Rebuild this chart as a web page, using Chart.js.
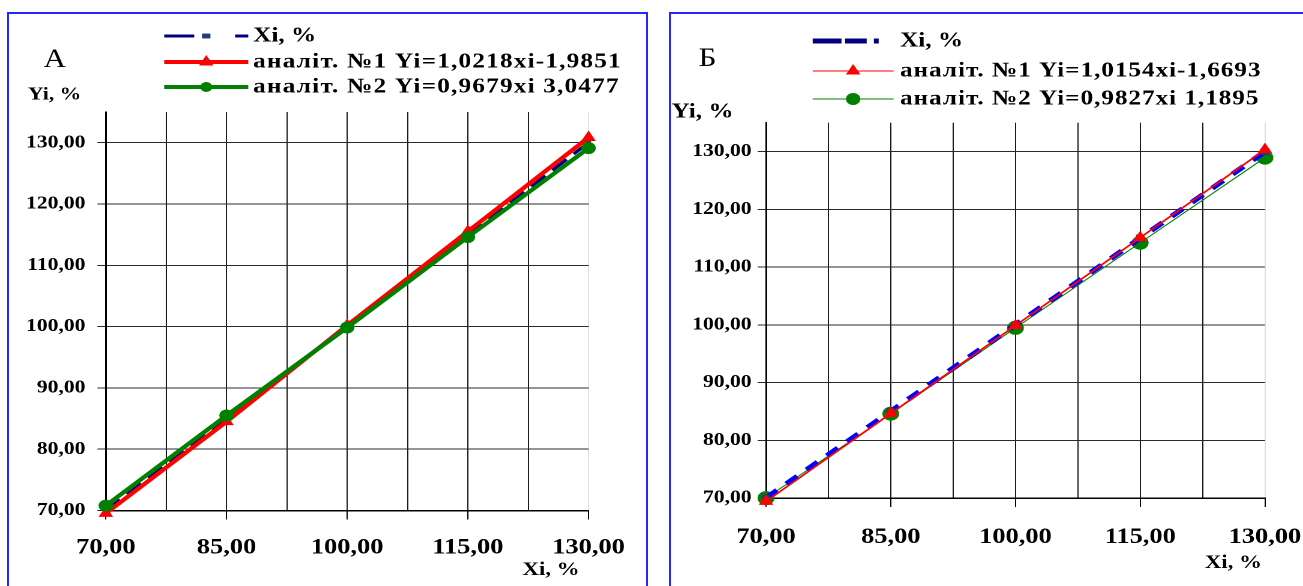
<!DOCTYPE html>
<html>
<head>
<meta charset="utf-8">
<script src="https://cdn.jsdelivr.net/npm/chart.js@4"></script>
<style>
  body { margin: 0; background: #fff; width: 1303px; height: 586px; overflow: hidden; position: relative; }
  .frame { position: absolute; border: 2px solid #2626ff; box-sizing: border-box; }
  .panel { position: absolute; top: 0; height: 586px; transform-origin: 0 0; transform: scaleX(1.2); }
</style>
</head>
<body>
<div class="frame" style="left:7px;top:12px;width:641px;height:600px"></div>
<div class="frame" style="left:669px;top:12px;width:640px;height:600px"></div>
<div class="panel" style="left:0;width:541.67px"><canvas id="chartA"></canvas></div>
<div class="panel" style="left:655px;width:540px"><canvas id="chartB"></canvas></div>

<script>
// values
const xValues = [70, 85, 100, 115, 130];

const xiA = [70, 85, 100, 115, 130];
const analit1A = [69.54, 84.5, 100.2, 115.52, 130.85];
const analit2A = [70.8, 85.5, 99.84, 114.6, 129.1];
const legendA = ['Xi, %', 'аналіт. №1 Yi=1,0218xi-1,9851', 'аналіт. №2 Yi=0,9679xi 3,0477'];

const xiB = [70, 85, 100, 115, 130];
const analit1B = [69.41, 84.64, 99.87, 115.1, 130.33];
const analit2B = [69.98, 84.6, 99.46, 114.2, 128.94];
const legendB = ['Xi, %', 'аналіт. №1 Yi=1,0154xi-1,6693', 'аналіт. №2 Yi=0,9827xi 1,1895'];

const yMin = 70, yMax = 135, yStep = 10, yLastLabel = 130;
const xMin = 70, xMax = 130, xStep = 7.5, xLabelStep = 15;

const FONT = "'Liberation Serif', 'Times New Roman', serif";

function fmt(v) {
  return v.toFixed(2).replace('.', ',');
}

function pairs(ys) {
  return xValues.map((x, i) => ({ x: x, y: ys[i] }));
}

function drawMarker(ctx, style, x, y, r, color) {
  ctx.fillStyle = color;
  ctx.beginPath();
  if (style === 'triangle') {
    ctx.moveTo(x, y - r);
    ctx.lineTo(x + r * 0.866, y + r * 0.5);
    ctx.lineTo(x - r * 0.866, y + r * 0.5);
    ctx.closePath();
  } else if (style === 'circle') {
    ctx.arc(x, y, r, 0, Math.PI * 2);
  } else {
    ctx.rect(x - r, y - r * 0.7, r * 2, r * 1.4);
  }
  ctx.fill();
}

const textPlugin = {
  id: 'panelText',
  afterDraw(chart, args, o) {
    const ctx = chart.ctx;
    ctx.save();
    ctx.fillStyle = '#000';
    ctx.textBaseline = 'alphabetic';
    ctx.font = `26px ${FONT}`;
    ctx.fillText(o.letter, o.letterX, o.letterY);

    ctx.textBaseline = 'middle';
    ctx.font = `bold ${o.yTitleSize}px ${FONT}`;
    ctx.fillText('Yi, %', o.yTitleX, o.yTitleY);
    ctx.font = `bold ${o.xTitleSize}px ${FONT}`;
    ctx.fillText('Xi, %', o.xTitleX, o.xTitleY);

    o.items.forEach((it, i) => {
      const y = o.rows[i];
      ctx.save();
      ctx.strokeStyle = it.color;
      ctx.lineWidth = it.width;
      ctx.setLineDash(it.dash || []);
      ctx.beginPath();
      ctx.moveTo(o.lineX1, y);
      ctx.lineTo(o.lineX2, y);
      ctx.stroke();
      ctx.restore();
      drawMarker(ctx, it.marker, (o.lineX1 + o.lineX2) / 2, y, it.radius, it.markerColor);
      ctx.save();
      ctx.fillStyle = '#000';
      ctx.font = `bold 21px ${FONT}`;
      if (i > 0) ctx.letterSpacing = o.spacing;
      ctx.fillText(o.labels[i], o.textX, y);
      ctx.restore();
    });
    ctx.restore();
  }
};

function makeChart(id, sets, p, text) {
  return new Chart(document.getElementById(id), {
    type: 'line',
    data: { datasets: sets },
    plugins: [textPlugin],
    options: {
      responsive: true,
      maintainAspectRatio: false,
      animation: false,
      devicePixelRatio: 2,
      layout: { padding: { left: 0, top: p.top, right: p.right, bottom: 0 } },
      plugins: {
        legend: { display: false },
        tooltip: { enabled: false },
        panelText: text
      },
      scales: {
        x: {
          type: 'linear',
          min: xMin,
          max: xMax,
          afterFit: s => {
            s.height = p.xHeight;
            s.paddingLeft = 0;
            s.paddingRight = 0;
          },
          border: { color: '#000', width: 1.5 },
          grid: {
            color: c => (c.tick && c.tick.value === xMax ? '#dedede' : '#1a1a1a'),
            lineWidth: 1,
            tickLength: 9,
            tickColor: c => (c.tick && c.tick.value % xLabelStep === 10 ? '#000' : 'rgba(0,0,0,0)')
          },
          ticks: {
            stepSize: xStep,
            autoSkip: false,
            maxRotation: 0,
            padding: p.xPad,
            color: '#000',
            font: { family: FONT, size: 22, weight: 'bold' },
            callback: v => (v % xLabelStep === 10 ? fmt(v) : '')
          }
        },
        y: {
          min: yMin,
          max: yMax,
          afterFit: s => {
            s.width = p.yWidth;
            s.paddingTop = 0;
            s.paddingBottom = 0;
          },
          afterBuildTicks: s => { s.ticks = s.ticks.filter(t => t.value <= yLastLabel); },
          border: { color: '#000', width: 1.5 },
          grid: { color: '#2a2a2a', lineWidth: 1, tickLength: 7, tickColor: '#2a2a2a' },
          ticks: {
            stepSize: yStep,
            padding: p.yPad,
            color: '#000',
            font: { family: FONT, size: 18, weight: 'bold' },
            callback: v => fmt(v)
          }
        }
      }
    }
  });
}

makeChart('chartA', [
  { label: legendA[0], data: pairs(xiA), borderColor: '#000080', borderWidth: 3, borderDash: [16, 8],
    pointStyle: 'rect', pointRadius: 3, pointBackgroundColor: '#1f3f6f', pointBorderWidth: 0, order: 3, clip: false },
  { label: legendA[1], data: pairs(analit1A), borderColor: '#ff0000', borderWidth: 4,
    pointStyle: 'triangle', pointRadius: 7, pointBackgroundColor: '#ff0000', pointBorderWidth: 0, order: 2, clip: false },
  { label: legendA[2], data: pairs(analit2A), borderColor: '#008000', borderWidth: 4,
    pointStyle: 'circle', pointRadius: 6, pointBackgroundColor: '#008000', pointBorderWidth: 0, order: 1, clip: false }
], { top: 112, right: 51.7, xHeight: 75.5, yWidth: 88.1, xPad: 15, yPad: 10 }, {
  letter: 'А', letterX: 36.3, letterY: 67,
  yTitleSize: 18, yTitleX: 23.3, yTitleY: 95,
  xTitleSize: 19, xTitleX: 435, xTitleY: 570,
  lineX1: 136.7, lineX2: 206.7, textX: 210.8, rows: [36, 62, 87], labels: legendA, spacing: '1px',
  items: [
    { color: '#000080', width: 3, dash: [25, 34, 12], marker: 'rect', radius: 3.5, markerColor: '#1f3f6f' },
    { color: '#ff0000', width: 4, marker: 'triangle', radius: 7, markerColor: '#ff0000' },
    { color: '#008000', width: 4, marker: 'circle', radius: 5, markerColor: '#008000' }
  ]
});

makeChart('chartB', [
  { label: legendB[0], data: pairs(xiB), borderColor: '#0000ff', borderWidth: 5, borderDash: [12, 10],
    pointStyle: 'rect', pointRadius: 5, pointBackgroundColor: '#1f3f6f', pointBorderWidth: 0, order: 2, clip: false },
  { label: legendB[1], data: pairs(analit1B), borderColor: '#ff0000', borderWidth: 1.6,
    pointStyle: 'triangle', pointRadius: 7, pointBackgroundColor: '#ff0000', pointBorderWidth: 0, order: 1, clip: false },
  { label: legendB[2], data: pairs(analit2B), borderColor: '#008000', borderWidth: 1,
    pointStyle: 'circle', pointRadius: 7, pointBackgroundColor: '#008000', pointBorderWidth: 0, order: 3, clip: false }
], { top: 122.7, right: 31.7, xHeight: 88, yWidth: 92.5, xPad: 17, yPad: 5 }, {
  letter: 'Б', letterX: 36.3, letterY: 66,
  yTitleSize: 21, yTitleX: 13.8, yTitleY: 112,
  xTitleSize: 19, xTitleX: 458.3, xTitleY: 563,
  lineX1: 131.4, lineX2: 198.8, textX: 204.2, rows: [41, 71, 99], labels: legendB, spacing: '0.8px',
  items: [
    { color: '#000080', width: 5, dash: [24, 3, 18, 6, 4], marker: 'rect', radius: 0.1, markerColor: '#1f3f6f' },
    { color: '#ff0000', width: 1, marker: 'triangle', radius: 7, markerColor: '#ff0000' },
    { color: '#008000', width: 1, marker: 'circle', radius: 6, markerColor: '#008000' }
  ]
});
</script>
</body>
</html>
